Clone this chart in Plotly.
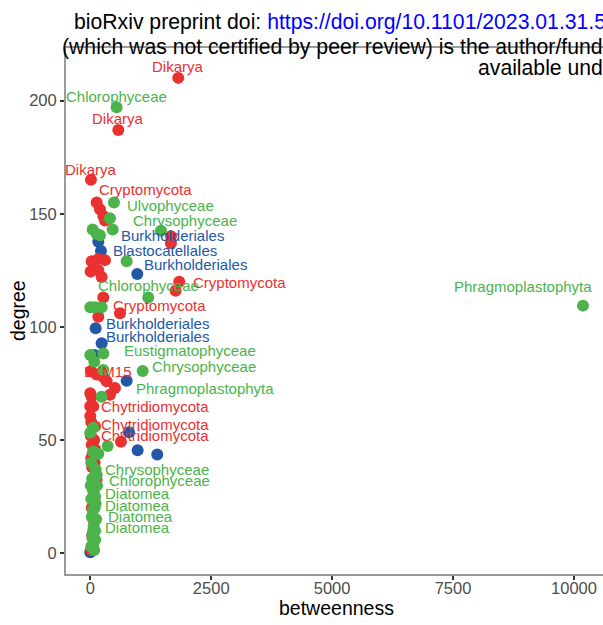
import plotly.graph_objects as go

# ---- data: node betweenness vs degree, coloured by group ----
# labelled nodes
red_lab_b = [1818, 579, 14, 132, 1839, 614, 338, 62, 97, 634]
red_lab_d = [210, 187, 165, 155, 120, 106, 76, 65, 56, 49.3]
red_labels = ["Dikarya", "Dikarya", "Dikarya", "Cryptomycota", "Cryptomycota",
              "Cryptomycota", "LKM15", "Chytridiomycota", "Chytridiomycota",
              "Chytridiomycota"]

green_lab_b = [545, 490, 1461, 1198, 269, 1083, 235, 132, 140, 100, 90, 120, 100, 10186]
green_lab_d = [197, 155, 142.5, 113, 88.3, 80.5, 69.2, 34.6, 30, 25, 20, 15, 10, 109.4]
green_labels = ["Chlorophyceae", "Ulvophyceae", "Chrysophyceae", "Chlorophyceae",
                "Eustigmatophyceae", "Chrysophyceae", "Phragmoplastophyta",
                "Chrysophyceae", "Chlorophyceae", "Diatomea", "Diatomea",
                "Diatomea", "Diatomea", "Phragmoplastophyta"]

blue_lab_b = [166, 221, 971, 111, 235]
blue_lab_d = [137.6, 133.5, 123.4, 99.4, 92.8]
blue_labels = ["Burkholderiales", "Blastocatellales", "Burkholderiales",
               "Burkholderiales", "Burkholderiales"]

# unlabelled nodes
red_b = [200, 269, 304, 1667, 1667, 28, 166, 304, 7, 166, 235, 1764, 269, 166,
         14, 130, 260, 510, 407, 0, 28, 0, 0,
         20, 60, 10, 80, 30, 100, 50, 20, 90, 40, 130, 60, 30, 80, 40, 60, 20]
red_d = [152, 149, 147, 140, 137, 129, 130, 129.5, 124.5, 125, 122, 116, 113, 104.5,
         80.5, 79, 78, 73, 70, 70.7, 69, 65, 60.6,
         58, 56, 52, 50, 48, 46, 44, 42, 40, 38, 32.4, 28, 20, 14, 8, 3, 1.5]

green_b = [407, 462, 49, 132, 200, 752, 0, 97, 235, 0, 83, 269, 62, 0, 359,
           60, 166, 20, 110, 40, 10, 70, 20, 110, 50, 30, 70, 60, 40, 100, 60, 20, 80]
green_d = [148, 143, 143, 141, 140.5, 129, 108.7, 108.7, 108.7, 87.6, 84.6, 81, 55.5, 53.3, 47.4,
           45, 44, 40, 37, 33, 30, 27, 24, 22, 19, 16, 12, 10, 7, 6, 4, 3, 1.5]

blue_b = [83, 752, 800, 979, 1384, 0, 15]
blue_d = [87.6, 76.2, 53.5, 45.5, 43.6, 0.5, 1]

x_ticks = [0, 2500, 5000, 7500, 10000]
x_ticktext = ["0", "2500", "5000", "7500", "10000"]
y_ticks = [0, 50, 100, 150, 200]
x_minor = [1250, 3750, 6250, 8750]
y_minor = [25, 75, 125, 175]

# ---- styling ----
FONT = "Liberation Sans, Arial, Helvetica, sans-serif"
RED, GREEN, BLUE = "#EB3030", "#4CB34A", "#2158A8"
W, H = 603, 625
L, R, T, B = 66, 0, 48, 51

# label offsets in pixels (dx right, dy up), one per labelled node
red_off = [(0, 11), (0, 11), (0, 10.7), (49, 13.4), (60, -0.7), (39.5, 8.3),
           (1, 10), (62, 0), (60.5, 2.5), (34.5, 6.7)]
green_off = [(0, 10.6), (57, -2.6), (24.5, 10.7), (0, 11.5), (86.4, 3.4),
             (61.3, 4.3), (103, 8.3), (60, 5), (62, 4.4), (42, 3.4),
             (42.5, 2.3), (44, 2.6), (42.4, 3.4), (-60, 19.6)]
blue_off = [(74, 6), (64, 1), (58.7, 9.6), (62, 4.3), (56, 6.5)]

fig = go.Figure()
groups = [
    (BLUE, blue_b + blue_lab_b, blue_d + blue_lab_d),
    (RED, red_b + red_lab_b, red_d + red_lab_d),
    (GREEN, green_b + green_lab_b, green_d + green_lab_d),
]
for color, xs, ys in groups:
    fig.add_trace(go.Scatter(
        x=xs, y=ys, mode="markers",
        marker=dict(size=12, color=color, line=dict(width=0)),
        showlegend=False, hoverinfo="x+y",
    ))

annotations = []
for color, xs, ys, labs, offs in [
    (RED, red_lab_b, red_lab_d, red_labels, red_off),
    (GREEN, green_lab_b, green_lab_d, green_labels, green_off),
    (BLUE, blue_lab_b, blue_lab_d, blue_labels, blue_off),
]:
    for xv, yv, lab, (dx, dy) in zip(xs, ys, labs, offs):
        annotations.append(dict(
            x=xv, y=yv, xref="x", yref="y", text=lab, showarrow=False,
            xshift=dx, yshift=dy, xanchor="center", yanchor="middle",
            font=dict(family=FONT, size=15, color=color),
        ))

plot_w, plot_h = W - L - R, H - T - B


def px_x(px):
    return (px - L) / plot_w


def px_y(py):
    return (H - B - py) / plot_h


# axis titles
annotations.append(dict(x=px_x(336.5), y=px_y(608), xref="paper", yref="paper",
                        text="betweenness", showarrow=False, xanchor="center",
                        yanchor="middle", font=dict(family=FONT, size=19.5, color="black")))
annotations.append(dict(x=px_x(18), y=px_y(311), xref="paper", yref="paper",
                        text="degree", showarrow=False, textangle=-90, xanchor="center",
                        yanchor="middle", font=dict(family=FONT, size=19.5, color="black")))

# preprint header lines
hdr_font = dict(family=FONT, size=21.2, color="black")
annotations.append(dict(x=px_x(72), y=px_y(22), xref="paper", yref="paper",
                        text="bioRxiv preprint doi: <span style='color:#0000FF'>https://doi.org/10.1101/2023.01.31.5</span>",
                        showarrow=False, xanchor="left", yanchor="middle", font=hdr_font))
annotations.append(dict(x=px_x(60), y=px_y(47), xref="paper", yref="paper",
                        text="(which was not certified by peer review) is the author/funder",
                        showarrow=False, xanchor="left", yanchor="middle", font=hdr_font))
annotations.append(dict(x=px_x(476), y=px_y(67), xref="paper", yref="paper",
                        text="available under",
                        showarrow=False, xanchor="left", yanchor="middle", font=hdr_font))

axis_common = dict(
    showgrid=False, zeroline=False, showline=True, linecolor="#9A9A9A", linewidth=2,
    ticks="outside", ticklen=4, tickwidth=2, tickcolor="#333333",
    tickfont=dict(family=FONT, size=16.5, color="#4D4D4D"),
)

fig.update_layout(
    width=W, height=H, margin=dict(l=L, r=R, t=T, b=B, autoexpand=False),
    paper_bgcolor="white", plot_bgcolor="white",
    xaxis=dict(range=[-502, 10600], tickvals=x_ticks, ticktext=x_ticktext, mirror=True,
               ticklabelstandoff=-6,
               minor=dict(tickvals=x_minor, ticks="inside", ticklen=2, tickwidth=1,
                          tickcolor="rgba(255,255,255,0.8)"),
               **axis_common),
    yaxis=dict(range=[-9.14, 223.2], tickvals=y_ticks,
               minor=dict(tickvals=y_minor, ticks="inside", ticklen=2, tickwidth=1,
                          tickcolor="rgba(255,255,255,0.8)"),
               **axis_common),
    annotations=annotations,
    font=dict(family=FONT),
)

fig.write_html("out.html")
